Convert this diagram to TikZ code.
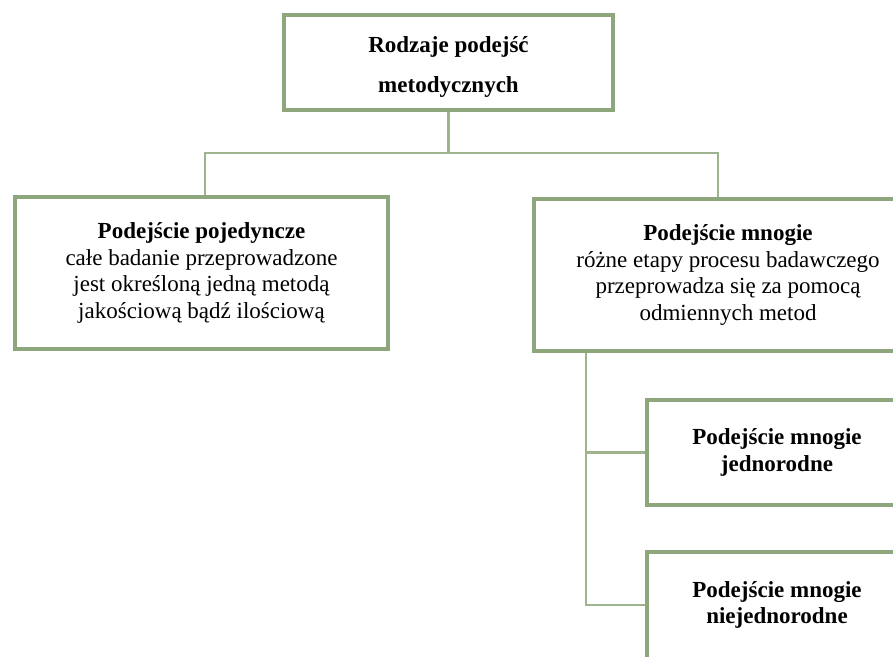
\documentclass[tikz,border=0pt]{standalone}
\usepackage{fontspec}
\setmainfont{Liberation Serif}
\definecolor{frame}{RGB}{141,166,124}
\definecolor{wire}{RGB}{158,180,143}
\begin{document}
\begin{tikzpicture}[x=0.5pt,y=-0.5pt,
  box/.style={draw=frame, line width=2pt, fill=white, inner sep=0pt,
    align=center, font=\fontsize{11.5}{13.3}\selectfont},
  caption/.style={inner sep=0pt, align=center, font=\fontsize{11.5}{13.3}\selectfont},
  link/.style={draw=wire, line width=1.1pt}]
\useasboundingbox (0,0) rectangle (893,657);
\clip (0,0) rectangle (893,657);

% boxes
\node[box, minimum width=164.5pt, minimum height=47.5pt] (root) at (448.5,63) {};
\node[caption] (roottext) at ([yshift=-2pt]root.center)
  {\textbf{Rodzaje podejść}\\[6.7pt]\textbf{metodycznych}};
\node[box, minimum width=186.5pt, minimum height=76pt] (single) at (201.5,273)
  {\textbf{Podejście pojedyncze}\\całe badanie przeprowadzone\\jest określoną jedną metodą\\jakościową bądź ilościową};
\node[box, minimum width=194pt, minimum height=76pt] (multi) at (728,275)
  {\textbf{Podejście mnogie}\\różne etapy procesu badawczego\\przeprowadza się za pomocą\\odmiennych metod};
\node[box, minimum width=130pt, minimum height=52.5pt] (homo) at (777,452.5)
  {\textbf{Podejście mnogie}\\\textbf{jednorodne}};
\node[box, minimum width=130pt, minimum height=53.5pt] (hetero) at (777,605)
  {\textbf{Podejście mnogie}\\\textbf{niejednorodne}};

% connectors
\coordinate (busL) at (205,153);
\coordinate (busR) at (718,153);
\coordinate (spine) at (586,0);
\draw[link] (root.south) -- (root.south |- busL);
\draw[link] (busL |- single.north) -- (busL) -- (busR) -- (busR |- multi.north);
\draw[link] (spine |- multi.south) -- (spine |- hetero.west) -- (hetero.west);
\draw[link] (spine |- homo.west) -- (homo.west);
\end{tikzpicture}
\end{document}
